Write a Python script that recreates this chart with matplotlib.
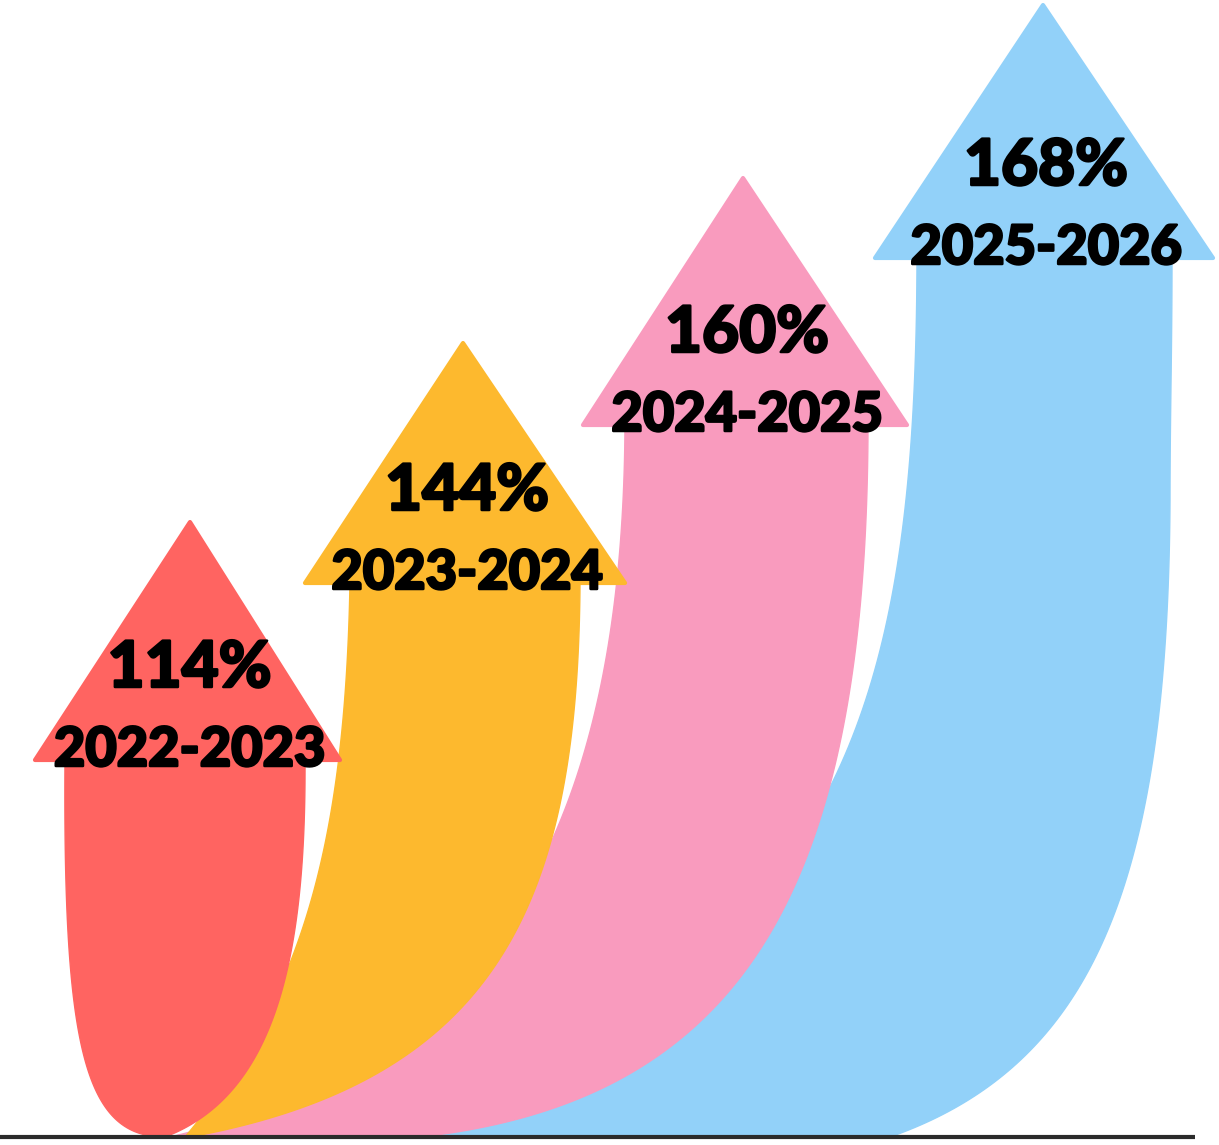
import numpy as np
import matplotlib
matplotlib.use("Agg")
import matplotlib.pyplot as plt
from matplotlib.patches import Polygon
import matplotlib.patheffects as pe

# data
values = [114, 144, 160, 168]
periods = ["2022-2023", "2023-2024", "2024-2025", "2025-2026"]
colors = ["#FF6461", "#FDB92E", "#F99BBE", "#92D1F9"]

# arrow layout (pixel space, y going down)
tips = [(190, 522), (463, 343), (743, 178), (1043, 5)]
head_base = [(35, 340, 760), (305, 625, 583), (583, 907, 425), (875, 1213, 258)]
# shaft edges as cubic bezier segments, top to bottom
left_edges = [
    [[(65, 760), (63, 1050), (85, 1137), (165, 1137)]],
    [[(350, 583), (345, 850), (300, 1000), (185, 1137)]],
    [[(625, 425), (623, 820), (500, 1060), (170, 1137)]],
    [[(917, 258), (916, 740), (830, 960), (380, 1137)]],
]
right_edges = [
    [[(305, 760), (306, 960), (275, 1095), (165, 1137)]],
    [[(580, 583), (578, 900), (500, 1080), (190, 1137)]],
    [[(868, 425), (867, 880), (750, 1100), (420, 1137)]],
    [[(1172, 258), (1172, 350), (1170, 420), (1170, 500)],
     [(1170, 500), (1168, 880), (1095, 1065), (890, 1137)]],
]


def curve(segments, n=100):
    out = []
    t = np.linspace(0, 1, n)[:, None]
    for seg in segments:
        p0, p1, p2, p3 = [np.array(q, dtype=float) for q in seg]
        out.append((1 - t) ** 3 * p0 + 3 * (1 - t) ** 2 * t * p1
                   + 3 * (1 - t) * t ** 2 * p2 + t ** 3 * p3)
    return np.vstack(out)


plt.rcParams['font.family'] = ['Lato', 'DejaVu Sans']

fig = plt.figure(figsize=(12.19, 11.45), dpi=100)
ax = fig.add_axes([0, 0, 1, 1])
ax.set_xlim(0, 1219)
ax.set_ylim(1145, 0)
ax.axis("off")

heavy = [pe.withStroke(linewidth=1.8, foreground="black")]

# draw back to front: blue first, red last
for i in range(3, -1, -1):
    le = curve(left_edges[i])
    re = curve(right_edges[i])[::-1]
    shaft = np.vstack([le, re])
    ax.add_patch(Polygon(shaft, closed=True, fc=colors[i], ec=colors[i], lw=1, zorder=2 + (3 - i)))
    x0, x1, yb = head_base[i]
    head = [(x0, yb), tips[i], (x1, yb)]
    ax.add_patch(Polygon(head, closed=True, fc=colors[i], ec=colors[i], lw=3,
                         joinstyle="round", zorder=2 + (3 - i)))
    xc = (x0 + x1) / 2 + 2
    ax.text(xc, yb - 73, f"{values[i]}%", ha="center", va="baseline",
            fontsize=46, fontweight="black", color="black", zorder=10, path_effects=heavy)
    ax.text(xc, yb + 6, periods[i], ha="center", va="baseline",
            fontsize=39, fontweight="black", color="black", zorder=10, path_effects=heavy)

ax.plot([0, 1195], [1137, 1137], color="#2b2b2b", lw=3, zorder=11, solid_capstyle="butt")

fig.savefig("out.png", dpi=100)
